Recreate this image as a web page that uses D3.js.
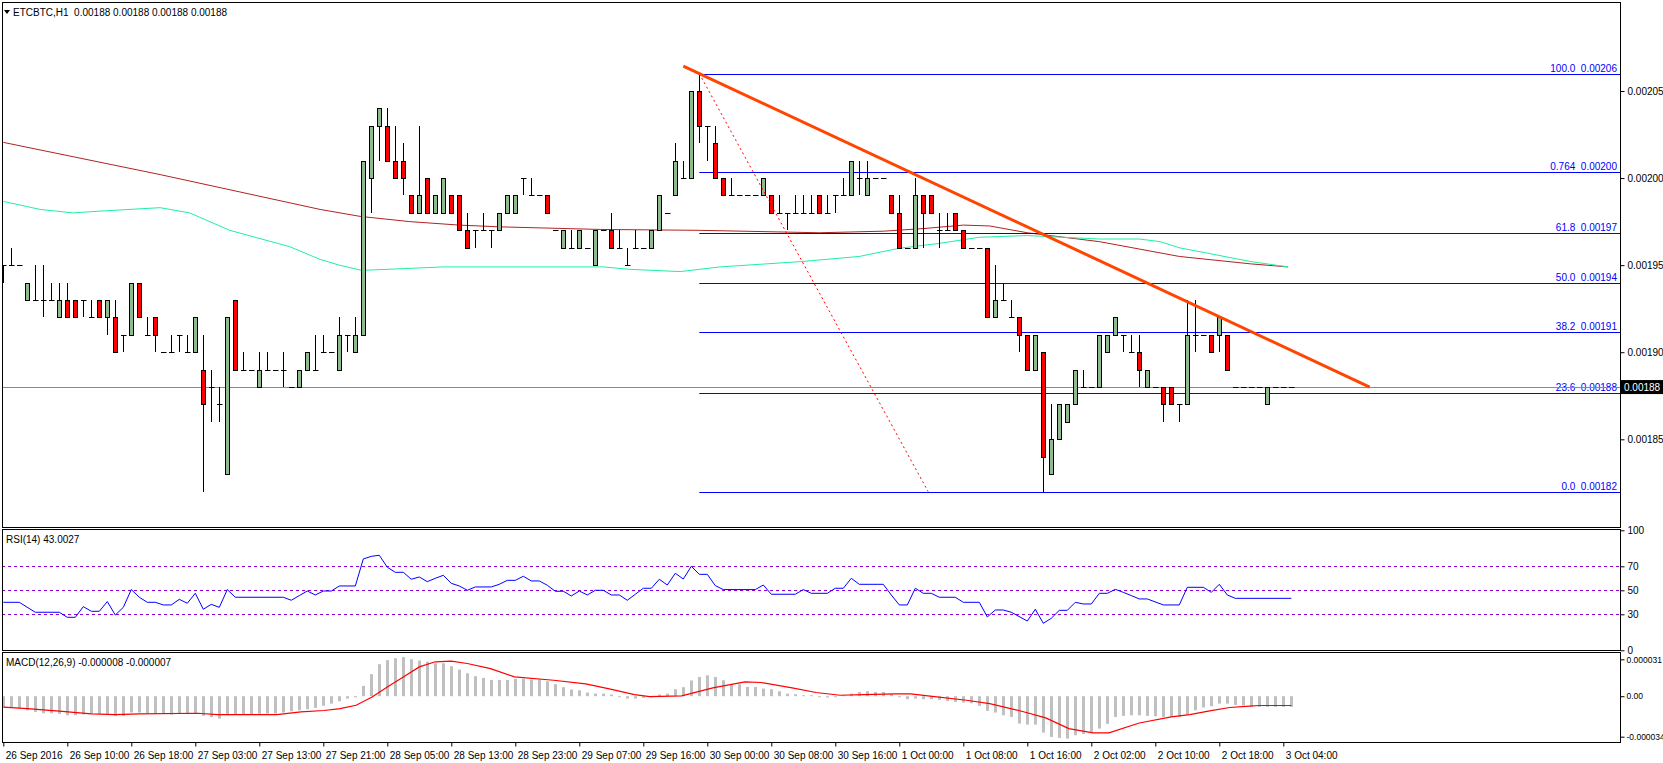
<!DOCTYPE html>
<html>
<head>
<meta charset="utf-8">
<script src="https://cdn.jsdelivr.net/npm/d3@7"></script>
<style>
body{margin:0;background:#fff;}
svg{display:block;font-family:"Liberation Sans",Arial,sans-serif;font-size:10px;}
</style>
</head>
<body>
<svg id="chart" width="1663" height="763"></svg>
<script>
// candles, prices in units of 0.00001 : [open, high, low, close]
const candles = [
[195,195,194,195],[195,196,195,195],[195,195,195,195],[193,194,193,194],[193,195,193,193],
[193,195,192,193],[193,194,193,193],[192,194,192,193],[193,194,192,192],[193,193,192,192],
[193,193,192,193],[192,193,192,192],[193,193,192,192],[192,193,191,193],[192,193,190,190],
[191,191,190,191],[191,194,191,194],[194,194,192,192],[191,192,191,191],[192,192,190,191],
[190,190,190,190],[190,191,190,190],[191,191,190,191],[190,191,190,190],[190,192,190,192],
[189,191,182,187],[188,189,186,188],[187,188,186,187],[183,192,183,192],[193,193,189,189],
[189,190,189,189],[189,189,189,189],[188,190,188,189],[189,190,189,189],[189,189,189,189],
[189,190,188,189],[188,188,188,188],[188,189,188,189],[189,190,189,190],[189,191,189,189],
[190,191,190,190],[190,190,190,190],[189,192,189,191],[191,191,190,191],[190,192,190,191],
[191,201,191,201],[200,203,198,203],[203,204,201,204],[203,204,201,201],[201,203,200,200],
[201,202,199,200],[199,199,198,198],[198,203,198,199],[200,200,198,198],[198,199,198,199],
[198,200,198,200],[199,199,198,198],[199,199,197,197],[197,198,196,196],[197,197,196,197],
[197,198,197,197],[197,197,196,197],[197,198,197,198],[198,199,198,199],[198,199,198,199],
[200,200,199,200],[199,200,199,199],[199,199,199,199],[199,199,198,198],[197,197,197,197],
[196,197,196,197],[196,197,196,196],[196,197,196,197],[196,196,196,196],[195,197,195,197],
[197,197,197,197],[197,198,196,196],[196,197,196,196],[195,196,195,195],[196,197,196,196],
[196,196,196,196],[196,197,196,197],[197,199,197,199],[198,198,198,198],[199,202,199,201],
[200,201,200,200],[200,205,200,205],[205,206,202,203],[203,203,201,203],[202,203,200,200],
[200,200,199,199],[199,200,199,199],[199,199,199,199],[199,199,199,199],[199,199,199,199],
[199,200,199,200],[199,199,198,198],[198,199,198,198],[198,198,197,198],[198,199,198,198],
[198,199,198,198],[198,199,198,198],[199,199,198,198],[198,199,198,198],[199,199,198,199],
[199,200,199,199],[199,201,199,201],[200,201,199,200],[199,201,199,200],[200,200,200,200],
[200,200,200,200],[199,199,198,198],[198,199,196,196],[196,196,196,196],[196,200,196,199],
[199,199,196,198],[199,199,198,198],[197,198,196,197],[197,198,197,197],[198,198,197,197],
[197,197,196,196],[196,196,196,196],[196,196,196,196],[196,196,192,192],[192,195,192,193],
[193,194,193,193],[192,193,192,192],[192,192,190,191],[191,191,189,189],[189,191,189,191],
[190,190,182,184],[183,187,183,185],[185,187,185,187],[186,187,186,187],[187,189,187,189],
[188,189,188,188],[188,188,188,188],[188,191,188,191],[190,191,190,191],[191,192,191,192],
[191,191,190,191],[190,191,190,190],[190,191,188,189],[188,189,188,189],[188,188,188,188],
[188,188,186,187],[188,188,187,187],[187,187,186,187],[187,193,187,191],[191,193,190,191],
[191,191,191,191],[191,191,190,190],[191,192,190,192],[191,191,189,189],[188,188,188,188],
[188,188,188,188],[188,188,188,188],[188,188,188,188],[187,188,187,188],[188,188,188,188],
[188,188,188,188],[188,188,188,188]
];

// moving averages: [bar index, price]
const maRed = [[0,202.05],[19.6,200.2],[39.6,198.2],[44.6,197.8],[50.8,197.5],[57,197.3],[62,197.2],
  [74.6,197.05],[87,197.0],[102,196.86],[110,196.95],[115,197.1],[120,197.3],[123.3,197.25],
  [128,196.86],[137,196.35],[147,195.5],[156,195.07],[160.6,194.9]];
const maGreen = [[0,198.66],[4.6,198.2],[8.7,198.0],[12,198.1],[19.6,198.3],[23.3,198.0],[28.3,197.0],
  [35.8,196.06],[39.6,195.33],[42,195.0],[44.8,194.7],[50,194.8],[55,194.9],[75,194.9],[78.3,194.76],
  [84.6,194.63],[89.6,194.9],[99.6,195.2],[107,195.5],[112,195.97],[117,196.25],[122,196.6],
  [128,196.7],[137,196.5],[142,196.5],[144.6,196.35],[147,196.0],[156,195.2],[160.6,194.9]];

// RSI(14): [bar index, value]
const rsi = [[0,40],[2,40],[4,31.7],[7,31.7],[8,27.5],[9,27.5],[10,36.4],[11,32.5],[12,32.5],[13,40.6],
  [14,29.4],[15,35.8],[16,50.6],[17,44.2],[18,40],[19,40],[20,37.8],[21,37.8],[22,42.5],[23,39.2],
  [24,47.5],[25,34.2],[26,38.3],[27,35.8],[28,50.6],[29,44.2],[35,44.2],[36,41.7],[37,45.6],[38,49.4],
  [39,46.1],[40,49.4],[41,49.4],[42,53.6],[44,53.6],[45,76.1],[46,78.3],[47,79.2],[48,69.2],[49,65],
  [50,65],[51,59.2],[52,61.1],[53,57.2],[54,60],[55,62.5],[56,55.8],[57,53.6],[58,50],[59,52.8],
  [61,52.8],[62,55],[63,58.3],[64,58.3],[65,61.7],[66,57.8],[67,57.8],[68,54.2],[69,49.2],[70,49.2],
  [71,45.3],[72,49.4],[73,46.1],[74,50],[75,50],[76,46.1],[77,46.1],[78,41.7],[79,46.7],[80,51.7],
  [81,51.7],[82,59.2],[83,54.4],[84,64.2],[85,59.4],[86,70],[87,63.3],[88,63.3],[89,53.9],[90,50.6],
  [94,50.6],[95,54.4],[96,46.7],[99,46.7],[100,50.6],[101,47.5],[103,47.5],[104,51.7],[105,51.7],
  [106,60],[107,55],[110,55],[111,46.1],[112,37.8],[113,37.8],[114,51.7],[115,47.5],[116,47.5],
  [117,44.2],[119,44.2],[120,40],[122,40],[123,27.8],[124,33.6],[125,33.6],[126,31.7],[128,24.4],
  [129,34.2],[130,22.5],[131,26.7],[132,33.3],[133,33.3],[134,40],[135,38.6],[136,38.6],[137,47.5],
  [138,47.5],[139,50.8],[140,48.3],[141,45.6],[142,42.8],[143,42.8],[145,37.8],[147,37.8],[148,52.5],
  [150,52.5],[151,48.3],[152,55],[153,46.1],[154,43.3],[161,43.3]];

// MACD histogram per bar, units of 0.000001
const macdHist = [-9.2,-9.8,-10.4,-11.8,-13.2,-14.3,-14.3,-14.8,-16,-16,-15.4,-14.8,-14.8,-14.8,-16.5,
  -16.5,-13.7,-13.7,-14.3,-14.8,-14.8,-15.4,-14.8,-14.8,-14.6,-16.5,-17.6,-18.8,-16,-15.4,-15.4,-15.4,
  -14.8,-14.6,-14.6,-13.7,-12.6,-11.8,-10.9,-9.8,-8,-6.2,-4.2,-2,-1,
  8.7,18.5,26.9,30.3,31.9,32.8,31.1,30,28.9,27.7,27.7,25.2,22.4,19.3,16.8,15.4,13.7,13.7,13.7,14.6,
  14.6,14,14,12.6,10.1,7.6,5.6,5,3.1,2.2,2.2,1.4,0,-2,-2,-1.4,0,1.4,2.2,5.9,7.6,13.2,16.2,17.6,16.2,
  13.4,10.1,10.1,7.8,7.8,6.4,5.9,4.2,2.2,1.7,0.8,0.8,0,-1.1,-0.6,0.8,2.2,3.6,4.2,3.6,3.6,1.7,0,-2.5,
  -2,-2.5,-2.5,-3.1,-4.2,-4.8,-5.3,-5.9,-8.1,-12.3,-13.7,-16,-17.4,-23,-23.8,-23.8,-30.5,-34.2,-35,
  -35.6,-32.8,-31.7,-30,-27.2,-23.2,-17.4,-16.5,-16,-16,-16.5,-16.8,-17.4,-17.4,-17.4,-15.7,-11.8,
  -9.5,-8.4,-6.2,-6.2,-7.3,-7.8,-9,-9,-9,-9,-9,-9];
// MACD signal: [bar index, value]
const macdSignal = [[0,-9.2],[3,-10.4],[7,-12.6],[11,-14.8],[14,-15.4],[17,-14.8],[24.3,-14.3],[26.8,-15.4],
  [34.2,-15.4],[37.2,-13.2],[40.1,-12.0],[42.1,-10.4],[44.1,-7.6],[46.1,-0.6],[48,7.8],[50,16.2],
  [52,24.6],[54,28.9],[56,29.4],[58,27.5],[60.9,23.2],[63.9,16.2],[68.8,13.4],[72.8,10.4],[75.9,5.9],
  [78.9,1.4],[80.8,-0.3],[84.8,0.3],[88.7,7.0],[92.7,12.0],[94.7,11.5],[98.6,7.0],[101.6,3.1],
  [104.6,0.8],[107.5,1.4],[111.5,2.0],[113.4,2.0],[116.4,-0.3],[120.4,-3.4],[123.3,-6.2],[127.3,-12.6],
  [130.3,-18.2],[133.2,-27.2],[136.2,-30.8],[138.2,-30.8],[142,-22.5],[146,-17.4],[148.3,-15.4],
  [150.8,-12.3],[153.3,-9.5],[155.8,-8.4],[157,-7.8],[161,-7.8]];

const timeLabels = ["26 Sep 2016","26 Sep 10:00","26 Sep 18:00","27 Sep 03:00","27 Sep 13:00","27 Sep 21:00",
  "28 Sep 05:00","28 Sep 13:00","28 Sep 23:00","29 Sep 07:00","29 Sep 16:00","30 Sep 00:00","30 Sep 08:00",
  "30 Sep 16:00","1 Oct 00:00","1 Oct 08:00","1 Oct 16:00","2 Oct 02:00","2 Oct 10:00","2 Oct 18:00","3 Oct 04:00"];
const priceTicks = [185,190,195,200,205];
const rsiTicks = [0,30,50,70,100];
const rsiLevels = [30,50,70];
const macdTicks = [-34,0,31];

// fibonacci (bar 87 high to low) and drawings
const fibHigh = 206, fibLow = 182, fibStart = 87;
const fibLevels = [[1,"100.0"],[0.764,"0.764"],[0.618,"61.8"],[0.5,"50.0"],[0.382,"38.2"],[0.236,"23.6"],[0,"0.0"]];
const trendLine = [[85,206.43],[170.8,188.0]];
const dotLine = [[87,206],[115.6,182]];
const lastPrice = 188;

const svg = d3.select('#chart');
const L = 2, R = 1620;
const main = {top:2, bottom:527}, rsiP = {top:529, bottom:650}, macdP = {top:652, bottom:742};

const x = d3.scaleLinear().domain([0,200]).range([3.3,1603.3]);
const y = d3.scaleLinear().domain([185,205]).range([439.3,91.0]);
const yr = d3.scaleLinear().domain([0,100]).range([650.3,530.3]);
const ym = d3.scaleLinear().domain([-34,31]).range([736.7,659.3]);
const px = v => Math.round(x(v));

const defs = svg.append('defs');
[['cm',main],['cr',rsiP],['cmd',macdP]].forEach(([id,p]) => {
    defs.append('clipPath').attr('id',id).append('rect')
        .attr('x',L).attr('y',p.top).attr('width',R-L).attr('height',p.bottom-p.top);
});

// ---- main panel
let g = svg.append('g').attr('clip-path','url(#cm)');
let line = d3.line().x(d => x(d[0])).y(d => y(d[1]));
g.append('path').attr('d',line(maRed)).attr('fill','none').attr('stroke','#b22222').attr('stroke-width',1);
g.append('path').attr('d',line(maGreen)).attr('fill','none').attr('stroke','#1ef0a0').attr('stroke-width',1);

fibLevels.forEach(f => {
    let v = fibLow + (fibHigh - fibLow) * f[0];
    let yy = Math.round(y(v)) + 0.5;
    g.append('line').attr('x1',x(fibStart)).attr('x2',R).attr('y1',yy).attr('y2',yy)
        .attr('stroke','#0000ff').attr('stroke-width',1);
    g.append('text').attr('x',R-3).attr('y',yy-3).attr('text-anchor','end').attr('fill','#0000ff')
        .attr('font-size',10).text(f[1] + '\u00a0\u00a0' + (v/1e5).toFixed(5));
});

g.append('line').attr('x1',L).attr('x2',R).attr('y1',Math.round(y(lastPrice))+0.5).attr('y2',Math.round(y(lastPrice))+0.5)
    .attr('stroke','#8a8a8a');

candles.forEach((c,i) => {
    let cx = px(i) + 0.5;
    let up = c[3] > c[0], doji = c[3] === c[0];
    let top = Math.round(y(Math.max(c[0],c[3]))), bot = Math.round(y(Math.min(c[0],c[3])));
    g.append('line').attr('x1',cx).attr('x2',cx).attr('y1',Math.round(y(c[1]))).attr('y2',Math.round(y(c[2])))
        .attr('stroke','#000');
    if(doji){
        g.append('line').attr('x1',cx-2.5).attr('x2',cx+3).attr('y1',top+0.5).attr('y2',top+0.5).attr('stroke','#000');
    }
    else{
        g.append('rect').attr('x',cx-2).attr('y',top+0.5).attr('width',4).attr('height',bot-top)
            .attr('fill',up ? '#8fbc8f' : '#ff0000').attr('stroke','#000');
    }
});

g.append('path').attr('d',line(dotLine)).attr('stroke','#ff0000').attr('stroke-dasharray','2,3').attr('fill','none');
g.append('path').attr('d',line(trendLine)).attr('stroke','#ff4500').attr('stroke-width',3).attr('fill','none');

// ---- RSI panel
let gr = svg.append('g').attr('clip-path','url(#cr)');
rsiLevels.forEach(v => {
    gr.append('line').attr('x1',L).attr('x2',R).attr('y1',Math.round(yr(v))+0.5).attr('y2',Math.round(yr(v))+0.5)
        .attr('stroke','#9400d3').attr('stroke-dasharray','3,3');
});
gr.append('path').attr('d',d3.line().x(d => x(d[0])).y(d => yr(d[1]))(rsi))
    .attr('fill','none').attr('stroke','#0000ff');

// ---- MACD panel
let gm = svg.append('g').attr('clip-path','url(#cmd)');
macdHist.forEach((v,i) => {
    let y0 = ym(0), y1 = ym(v);
    gm.append('rect').attr('x',px(i)-1).attr('width',3)
        .attr('y',Math.min(y0,y1)).attr('height',Math.max(1,Math.abs(y1-y0))).attr('fill','#c0c0c0');
});
gm.append('path').attr('d',d3.line().x(d => x(d[0])).y(d => ym(d[1]))(macdSignal))
    .attr('fill','none').attr('stroke','#ff0000').attr('stroke-width',1.2);

// ---- frames
[main,rsiP,macdP].forEach(p => {
    svg.append('rect').attr('x',L+0.5).attr('y',p.top+0.5).attr('width',R-L).attr('height',p.bottom-p.top)
        .attr('fill','none').attr('stroke','#000');
});

// ---- axes
function styleAxis(a){
    a.select('.domain').remove();
    a.selectAll('text').attr('fill','#000').attr('font-size',10).attr('font-family','Liberation Sans, Arial, sans-serif');
    a.selectAll('line').attr('stroke','#000');
}
svg.append('g').attr('transform',`translate(${R+0.5},0)`)
    .call(d3.axisRight(y).tickValues(priceTicks).tickSize(4).tickPadding(3).tickFormat(d => (d/1e5).toFixed(5)))
    .call(styleAxis);
svg.append('g').attr('transform',`translate(${R+0.5},0)`)
    .call(d3.axisRight(yr).tickValues(rsiTicks).tickSize(4).tickPadding(3))
    .call(styleAxis);
svg.append('g').attr('transform',`translate(${R+0.5},0)`)
    .call(d3.axisRight(ym).tickValues(macdTicks).tickSize(4).tickPadding(2)
        .tickFormat(d => d === 0 ? '0.00' : (d/1e6).toFixed(6)))
    .call(styleAxis)
    .call(a => a.selectAll('text').attr('font-size',8.5));
let tx = svg.append('g').attr('transform',`translate(0,${macdP.bottom+0.5})`)
    .call(d3.axisBottom(x).tickValues(d3.range(timeLabels.length).map(i => i*8)).tickSize(4)
        .tickFormat((d,i) => timeLabels[i]))
    .call(styleAxis);
tx.selectAll('text').attr('text-anchor','start').attr('dx',2).attr('dy','0.9em');

// last price badge
let ly = y(lastPrice);
svg.append('rect').attr('x',R+1).attr('y',ly-7).attr('width',42).attr('height',14).attr('fill','#000');
svg.append('text').attr('x',R+4).attr('y',ly+4).attr('fill','#fff').attr('font-size',10).text((lastPrice/1e5).toFixed(5));

// titles
svg.append('path').attr('d','M4,10 L10,10 L7,14 Z').attr('fill','#000');
svg.append('text').attr('x',13).attr('y',16).attr('font-size',10)
    .text('ETCBTC,H1\u00a0\u00a00.00188 0.00188 0.00188 0.00188');
svg.append('text').attr('x',6).attr('y',rsiP.top+14).attr('font-size',10).text('RSI(14) 43.0027');
svg.append('text').attr('x',6).attr('y',macdP.top+14).attr('font-size',10).text('MACD(12,26,9) -0.000008 -0.000007');
</script>
</body>
</html>
